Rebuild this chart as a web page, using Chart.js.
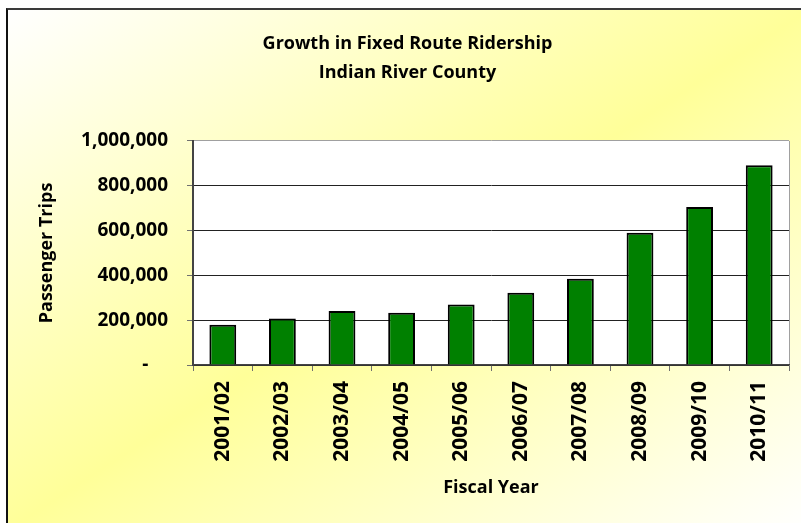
<!DOCTYPE html>
<html>
<head>
<meta charset="utf-8">
<title>Growth in Fixed Route Ridership</title>
<script src="https://cdn.jsdelivr.net/npm/chart.js@4/dist/chart.umd.min.js"></script>
<style>
    html, body { margin: 0; padding: 0; background: #fff; overflow: hidden; }
    #frame {
        position: absolute; left: 6px; top: 8px; width: 801px; height: 520px;
        border-top: 2px solid #3a3a3a; border-left: 2px solid #111;
        background: linear-gradient(to bottom right, #ffffff 0%, #ffff99 50%, #ffffff 100%);
    }
    #chart { position: absolute; left: 0; top: 0; }
</style>
</head>
<body>
<div id="frame"></div>
<canvas id="chart" width="801" height="523"></canvas>
<script>
// Chart data
const fiscalYears = ['2001/02', '2002/03', '2003/04', '2004/05', '2005/06',
                     '2006/07', '2007/08', '2008/09', '2009/10', '2010/11'];
const passengerTrips = [180000, 207000, 241000, 233000, 270000,
                        322000, 385000, 590000, 705000, 892000];
const yTicks = [0, 200000, 400000, 600000, 800000, 1000000];

const FONT = "'Open Sans', 'DejaVu Sans', sans-serif";

// white plot area behind the bars
const plotBackground = {
    id: 'plotBackground',
    beforeDraw(chart) {
        const { ctx, chartArea: a } = chart;
        ctx.save();
        ctx.fillStyle = '#ffffff';
        ctx.fillRect(a.left, a.top, a.right - a.left, a.bottom - a.top);
        ctx.restore();
    }
};

new Chart(document.getElementById('chart'), {
    type: 'bar',
    data: {
        labels: fiscalYears,
        datasets: [{
            label: 'Passenger Trips',
            data: passengerTrips,
            backgroundColor: '#008000',
            borderColor: '#000000',
            borderWidth: 2,
            categoryPercentage: 1,
            barPercentage: 0.45
        }]
    },
    options: {
        responsive: false,
        animation: false,
        layout: { padding: { left: 26, right: 12, top: 0, bottom: 0 } },
        plugins: {
            legend: { display: false },
            tooltip: { enabled: false },
            title: {
                display: true,
                text: ['Growth in Fixed Route Ridership', 'Indian River County'],
                color: '#000',
                font: { family: FONT, size: 18, weight: 'bold', lineHeight: 1.61 },
                padding: { top: 29.5, bottom: 53.5 }
            }
        },
        scales: {
            x: {
                afterFit(scale) { scale.height = 158; },
                grid: {
                    offset: true,
                    drawOnChartArea: true,
                    color: ctx => ctx.type === 'scale' ? '#a0a0a0' : 'rgba(0,0,0,0)',
                    tickColor: '#707070',
                    tickLength: 6
                },
                border: { color: '#444', width: 1.5 },
                ticks: {
                    color: '#000',
                    minRotation: 90,
                    maxRotation: 90,
                    padding: 10,
                    font: { family: FONT, size: 21, weight: 'bold' }
                },
                title: {
                    display: true,
                    text: 'Fiscal Year',
                    color: '#000',
                    font: { family: FONT, size: 18, weight: 'bold', lineHeight: 1.2 },
                    padding: { top: 0, bottom: 24 }
                }
            },
            y: {
                min: 0,
                max: 1000000,
                afterFit(scale) { scale.width = 167; },
                afterBuildTicks(scale) { scale.ticks = yTicks.map(v => ({ value: v })); },
                grid: {
                    color: ctx => ctx.tick && ctx.tick.value === 1000000 ? '#a0a0a0' : '#222',
                    tickColor: '#707070',
                    tickLength: 6
                },
                border: { color: '#444', width: 2 },
                ticks: {
                    color: '#000',
                    padding: 19,
                    font: { family: FONT, size: 19, weight: 'bold' },
                    callback: v => v === 0 ? '-    ' : v.toLocaleString('en-US')
                },
                title: {
                    display: true,
                    text: 'Passenger Trips',
                    color: '#000',
                    font: { family: FONT, size: 18, weight: 'bold', lineHeight: 1.2 },
                    padding: { top: 10, bottom: 0 }
                }
            }
        }
    },
    plugins: [plotBackground]
});
</script>
</body>
</html>
